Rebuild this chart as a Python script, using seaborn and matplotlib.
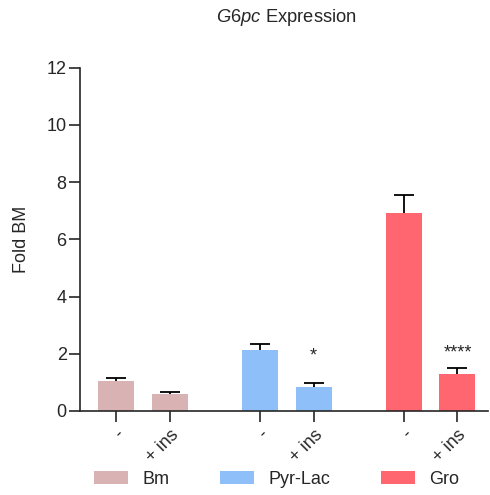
import matplotlib
matplotlib.use("Agg")
import matplotlib.pyplot as plt
import seaborn as sns
import pandas as pd
from matplotlib.patches import Patch

groups = ["Bm", "Bm", "Pyr-Lac", "Pyr-Lac", "Gro", "Gro"]
conditions = ["-", "+ ins", "-", "+ ins", "-", "+ ins"]
means = [1.05, 0.59, 2.12, 0.83, 6.91, 1.30]
errors = [0.09, 0.08, 0.22, 0.14, 0.65, 0.19]
stars = ["", "", "", "*", "", "****"]
star_y = [0, 0, 0, 1.92, 0, 2.03]
positions = [0, 1, 2.667, 3.667, 5.333, 6.333]
legend_labels = ["Bm", "Pyr-Lac", "Gro"]
colors = {"Bm": "#D9B3B3", "Pyr-Lac": "#8FBFF8", "Gro": "#FF6670"}

sns.set_style("ticks")
plt.rcParams["font.family"] = ["Liberation Sans", "DejaVu Sans"]
plt.rcParams["mathtext.fontset"] = "custom"
plt.rcParams["mathtext.it"] = "Liberation Sans:italic"
plt.rcParams["mathtext.rm"] = "Liberation Sans"

df = pd.DataFrame({"pos": positions, "mean": means, "group": groups})

fig = plt.figure(figsize=(4.9, 4.95), dpi=100)
ax = fig.add_axes([0.163, 0.170, 0.833, 0.693])

sns.barplot(data=df, x="pos", y="mean", hue="group", palette=colors,
            native_scale=True, dodge=False, width=0.667, ax=ax,
            legend=False, saturation=1, edgecolor="none", zorder=2)

ax.errorbar(positions, means, yerr=errors, fmt="none",
            ecolor="black", elinewidth=1.3, capsize=7, capthick=1.3, zorder=1)

for p, s, sy in zip(positions, stars, star_y):
    if s:
        ax.text(p, sy, s, ha="center", va="center", fontsize=13)

ax.set_xlim(-0.667, 6.9)
ax.set_ylim(0, 12)
ax.set_yticks([0, 2, 4, 6, 8, 10, 12])
ax.set_xticks(positions)
ax.set_xticklabels(conditions, rotation=45, ha="right", rotation_mode="anchor",
                   fontsize=13)
ax.tick_params(axis="y", labelsize=13, length=8, width=1.2, pad=1.5)
ax.tick_params(axis="x", length=8, width=1.2, pad=3)
for sp in ["left", "bottom"]:
    ax.spines[sp].set_linewidth(1.2)
sns.despine(ax=ax)
ax.set_xlabel("")
ax.set_ylabel("Fold BM", fontsize=13, labelpad=12)

fig.text(0.585, 0.965, r"$\it{G6pc}$ Expression", ha="center", va="center",
         fontsize=13.2)

handles = [Patch(facecolor=colors[g], edgecolor="none") for g in legend_labels]
fig.legend(handles, legend_labels, loc="center left", bbox_to_anchor=(0.192, 0.032),
           ncol=3, frameon=False, fontsize=13, handlelength=1.88,
           handleheight=0.72, columnspacing=2.82, handletextpad=0.78,
           borderpad=0, borderaxespad=0)

fig.savefig("out.png", dpi=100)
